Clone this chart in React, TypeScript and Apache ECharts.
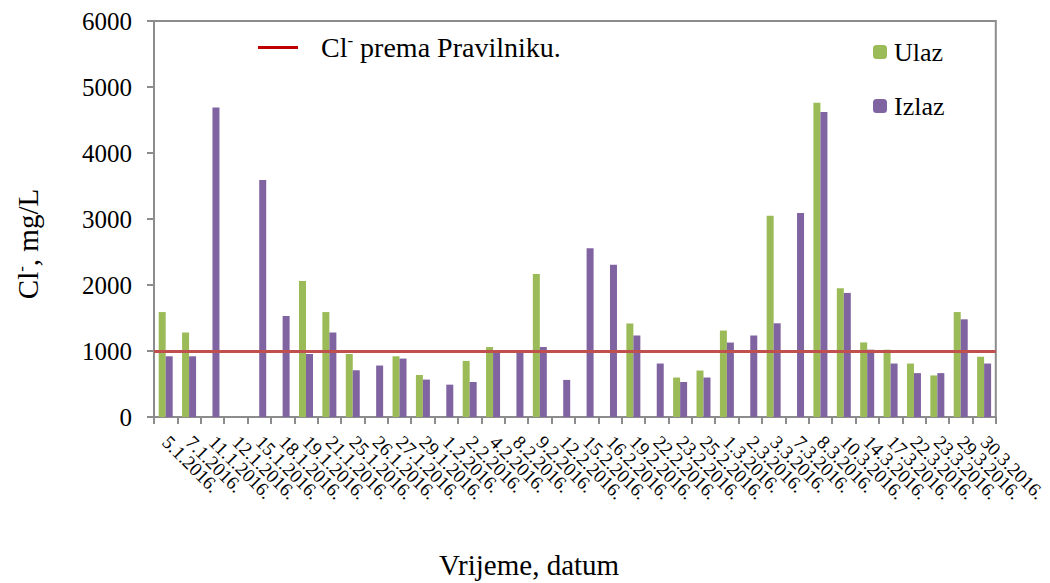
import React, { useEffect, useRef } from "react";
import * as echarts from "echarts";

const categories = [
  "5.1.2016.", "7.1.2016.", "11.1.2016.", "12.1.2016.", "15.1.2016.", "18.1.2016.",
  "19.1.2016.", "21.1.2016.", "25.1.2016.", "26.1.2016.", "27.1.2016.", "29.1.2016.",
  "1.2.2016.", "2.2.2016.", "4.2.2016.", "8.2.2016.", "9.2.2016.", "12.2.2016.",
  "15.2.2016.", "16.2.2016.", "19.2.2016.", "22.2.2016.", "23.2.2016.", "25.2.2016.",
  "1.3.2016.", "2.3.2016.", "3.3.2016.", "7.3.2016.", "8.3.2016.", "10.3.2016.",
  "14.3.2016.", "17.3.2016.", "22.3.2016.", "23.3.2016.", "29.3.2016.", "30.3.2016.",
];

const ulaz = [
  1590, 1280, null, null, null, null,
  2060, 1590, 955, null, 920, 637,
  null, 850, 1060, null, 2165, null,
  null, null, 1417, null, 598, 704,
  1310, null, 3050, null, 4760, 1950,
  1130, 1020, 810, 630, 1590, 913,
];

const izlaz = [
  920, 920, 4690, null, 3590, 1530,
  955, 1280, 708, 780, 885, 567,
  490, 530, 990, 990, 1060, 562,
  2555, 2306, 1235, 810, 530, 598,
  1128, 1235, 1420, 3090, 4620, 1880,
  1020, 810, 665, 665, 1480, 810,
];

const limitValue = 1000;
const yTicks = [0, 1000, 2000, 3000, 4000, 5000, 6000];

const FONT = "'Liberation Serif', 'Times New Roman', serif";

export default function App() {
  const ref = useRef<HTMLDivElement>(null);
  useEffect(() => {
    if (!ref.current) return;
    const chart = echarts.init(ref.current, null, { renderer: "svg" });
    chart.setOption({
      animation: false,
      textStyle: { fontFamily: FONT, color: "#000" },
      grid: {
        left: 154,
        right: 51,
        top: 21,
        bottom: 166,
        show: true,
        borderColor: "#8c8c8c",
        borderWidth: 2,
      },
      legend: [
        {
          data: [{ name: "Cl- prema Pravilniku.", icon: "rect" }],
          left: 253,
          top: 27,
          itemWidth: 40,
          itemHeight: 3,
          textStyle: {
            fontFamily: FONT,
            fontSize: 28,
            color: "#000",
            padding: [0, 0, 0, 18],
            rich: {
              a: { fontFamily: FONT, fontSize: 28, color: "#000" },
              sup: { fontFamily: FONT, fontSize: 17, color: "#000", verticalAlign: "top", padding: [0, 0, 14, 0] },
            },
          },
          formatter: () => "{a|Cl}{sup|-}{a| prema Pravilniku.}",
        },
        {
          data: ["Ulaz", "Izlaz"],
          orient: "vertical",
          left: 868,
          top: 34,
          itemWidth: 14,
          itemHeight: 14,
          itemGap: 28,
          textStyle: { fontFamily: FONT, fontSize: 26, color: "#000", padding: [0, 0, 0, 2] },
        },
      ],
      xAxis: {
        type: "category",
        data: categories,
        axisLine: { lineStyle: { color: "#8c8c8c", width: 2 } },
        axisTick: { show: true, length: 7, lineStyle: { color: "#8c8c8c", width: 2 } },
        axisLabel: {
          interval: 0,
          rotate: -45,
          margin: 22,
          fontFamily: FONT,
          fontSize: 19,
          color: "#000",
        },
      },
      yAxis: {
        type: "value",
        min: yTicks[0],
        max: yTicks[yTicks.length - 1],
        interval: 1000,
        splitLine: { show: false },
        axisLine: { show: true, lineStyle: { color: "#8c8c8c", width: 2 } },
        axisTick: { show: true, length: 7, lineStyle: { color: "#8c8c8c", width: 2 } },
        axisLabel: {
          margin: 22,
          fontFamily: FONT,
          fontSize: 25,
          color: "#000",
          formatter: (v: number) => String(v),
        },
      },
      series: [
        {
          name: "Ulaz",
          type: "bar",
          data: ulaz,
          barWidth: 7,
          barGap: "0%",
          itemStyle: { color: "#9BBB59" },
        },
        {
          name: "Izlaz",
          type: "bar",
          data: izlaz,
          barWidth: 7,
          barGap: "0%",
          itemStyle: { color: "#8064A2" },
        },
        {
          name: "Cl- prema Pravilniku.",
          type: "line",
          data: [],
          itemStyle: { color: "#C00000" },
          lineStyle: { color: "#C00000" },
          markLine: {
            silent: true,
            symbol: "none",
            label: { show: false },
            lineStyle: { color: "#C0504D", width: 3, type: "solid" },
            data: [{ yAxis: limitValue }],
          },
        },
      ],
      graphic: [
        {
          type: "text",
          x: 28,
          y: 244,
          rotation: Math.PI / 2,
          style: {
            text: "{a|Cl}{sup|-}{a|, mg/L}",
            align: "center",
            verticalAlign: "middle",
            rich: {
              a: { fontFamily: FONT, fontSize: 29, fill: "#000" },
              sup: { fontFamily: FONT, fontSize: 17, fill: "#000", verticalAlign: "top", padding: [0, 0, 14, 0] },
            },
          },
        },
        {
          type: "text",
          x: 529,
          y: 565,
          style: {
            text: "Vrijeme, datum",
            fontFamily: FONT,
            fontSize: 29,
            fill: "#000",
            align: "center",
            verticalAlign: "middle",
          },
        },
      ],
    });
    return () => chart.dispose();
  }, []);
  return (
    <div
      ref={ref}
      style={{ position: "fixed", left: 0, top: 0, width: 1050, height: 583, background: "#fff" }}
    />
  );
}
